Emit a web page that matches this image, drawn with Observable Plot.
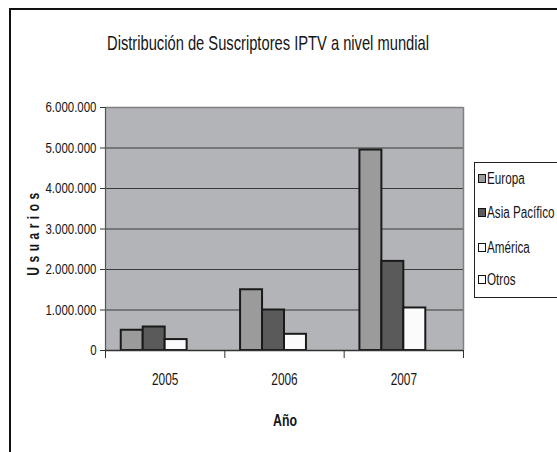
<!DOCTYPE html>
<html>
<head>
<meta charset="utf-8">
<script src="https://cdn.jsdelivr.net/npm/d3@7"></script>
<script src="https://cdn.jsdelivr.net/npm/@observablehq/plot@0.6"></script>
<style>
  html, body { margin: 0; padding: 0; background: #fff; overflow: hidden; }
  #wrap { position: relative; width: 557px; height: 452px; overflow: hidden;
          font-family: "Liberation Sans", Arial, sans-serif; color: #151515; }
  #chart svg { position: absolute; left: 0; top: 0; }
  .ov { position: absolute; white-space: nowrap; }
  #outer { position: absolute; left: 9px; top: 8px; width: 700px; height: 600px;
           border-left: 2px solid #111; border-top: 2px solid #111; }
  #title { left: 268px; top: 43px; font-size: 21px; transform: translate(-50%, -50%) scaleX(0.7); }
  #ylab { left: 34px; top: 232px; font-size: 16px; font-weight: bold; letter-spacing: 6px;
          transform: translate(-50%, -50%) rotate(-90deg) scaleX(0.75); }
  #xlab { left: 285px; top: 421px; transform: translate(-50%, -50%) scaleX(0.77); font-size: 16px; font-weight: bold; }
  #legend { position: absolute; left: 474px; top: 162px; width: 120px; height: 134px;
            border: 1px solid #222; background: #fff; }
  .sw { position: absolute; left: 3px; width: 6px; height: 7px; border: 1.5px solid #111; }
  .lt { position: absolute; left: 12px; font-size: 16px; line-height: 18px; white-space: nowrap;
        transform: scaleX(0.73); transform-origin: 0 50%; }
</style>
</head>
<body>
<div id="wrap">
  <div id="outer"></div>
  <div id="chart"></div>
  <div class="ov" id="title"></div>
  <div class="ov" id="ylab"></div>
  <div class="ov" id="xlab"></div>
  <div id="legend"></div>
</div>
<script>
const titleText = "Distribución de Suscriptores IPTV a nivel mundial";
const yLabel = "Usuarios";
const xLabel = "Año";
const years = ["2005", "2006", "2007"];
const series = ["Europa", "Asia Pacífico", "América", "Otros"];
const europa = [500000, 1500000, 4950000];
const asiaPacifico = [580000, 1000000, 2200000];
const america = [270000, 400000, 1050000];
const otros = [0, 0, 0];
const colors = ["#9b9b9b", "#5a5a5a", "#fbfbfb", "#ffffff"];
const yTicks = [0, 1000000, 2000000, 3000000, 4000000, 5000000, 6000000];

const values = [europa, asiaPacifico, america, otros];
const rows = [];
years.forEach((y, yi) => series.forEach((s, si) => rows.push({year: y, yi, series: s, si, value: values[si][yi]})));

const bw = 0.184; // bar width as fraction of a category
const fmt = d3.formatLocale({decimal: ",", thousands: ".", grouping: [3], currency: ["", ""]}).format(",d");
const boundaries = d3.range(years.length + 1).map(i => i - 0.5);

const chart = Plot.plot({
  width: 557,
  height: 452,
  marginTop: 107,
  marginBottom: 102,
  marginLeft: 105,
  marginRight: 94,
  style: {fontFamily: '"Liberation Sans", Arial, sans-serif', fontSize: "15px", color: "#151515", background: "transparent"},
  x: {domain: [-0.5, years.length - 0.5], axis: null},
  y: {domain: [0, 6000000], axis: null},
  color: {domain: series, range: colors},
  marks: [
    Plot.frame({fill: "#b3b4b7", stroke: null}),
    Plot.gridY(yTicks.slice(1, -1), {stroke: "#3a3a3a", strokeOpacity: 1, strokeWidth: 1.2}),
    Plot.ruleY([6000000], {stroke: "#808080", strokeWidth: 1.5}),
    Plot.ruleX([-0.5], {stroke: "#555", strokeWidth: 1.2}),
    Plot.ruleX([years.length - 0.5], {stroke: "#808080", strokeWidth: 1.5}),
    Plot.rectY(rows.filter(d => d.value > 0), {
      x1: d => d.yi - 2 * bw + d.si * bw,
      x2: d => d.yi - bw + d.si * bw,
      y1: 0, y2: "value",
      fill: "series", stroke: "#1a1a1a", strokeWidth: 2
    }),
    Plot.ruleY([0], {stroke: "#333", strokeWidth: 1.5}),
    Plot.axisY({ticks: yTicks, tickFormat: fmt, tickSize: 5, tickPadding: 4, stroke: "#333", label: null, fontSize: "15.5px"}),
    Plot.axisX({ticks: boundaries, tickFormat: () => "", tickSize: 8, stroke: "#333", label: null}),
    Plot.axisX({ticks: d3.range(years.length), tickFormat: i => years[i], tickSize: 0, tickPadding: 23, label: null, fontSize: "16px"})
  ]
});
document.getElementById("chart").appendChild(chart);

// condensed look: squeeze axis text horizontally around its anchor
const squeeze = 0.74;
d3.select(chart).selectAll("text").each(function () {
  const x = +(this.getAttribute("x") || 0);
  if (x) this.setAttribute("x", x / squeeze);
  const t = this.getAttribute("transform") || "";
  this.setAttribute("transform", t + ` scale(${squeeze},1)`);
});

document.getElementById("title").textContent = titleText;
document.getElementById("ylab").textContent = yLabel;
document.getElementById("xlab").textContent = xLabel;

const legend = document.getElementById("legend");
const legendCenters = [16, 50, 85, 117];
series.forEach((s, i) => {
  const sw = document.createElement("div");
  sw.className = "sw";
  sw.style.top = (legendCenters[i] - 5) + "px";
  sw.style.background = colors[i];
  legend.appendChild(sw);
  const lt = document.createElement("div");
  lt.className = "lt";
  lt.style.top = (legendCenters[i] - 9) + "px";
  lt.textContent = s;
  legend.appendChild(lt);
});
</script>
</body>
</html>
